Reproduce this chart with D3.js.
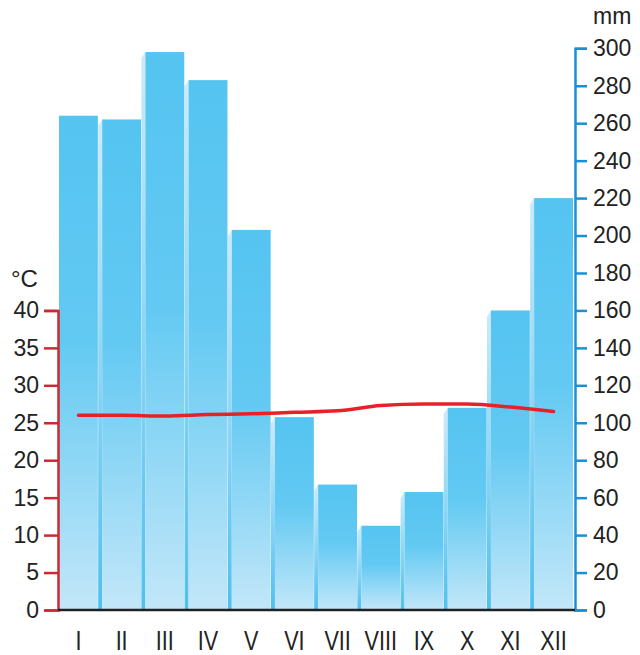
<!DOCTYPE html>
<html>
<head>
<meta charset="utf-8">
<script src="https://cdn.jsdelivr.net/npm/d3@7"></script>
<style>
  html, body { margin: 0; padding: 0; background: #fff; }
  svg { display: block; }
  text { font-family: "Liberation Sans", Arial, sans-serif; fill: #222; }
</style>
</head>
<body>
<svg id="chart" width="640" height="655"></svg>
<script>
// climate chart data
const months = ['I', 'II', 'III', 'IV', 'V', 'VI', 'VII', 'VIII', 'IX', 'X', 'XI', 'XII'];
const precipitation = [264, 262, 298, 283, 203, 103, 67, 45, 63, 108, 160, 220]; // mm
const temperature = [26.0, 26.0, 25.9, 26.1, 26.2, 26.4, 26.6, 27.3, 27.5, 27.5, 27.1, 26.5]; // °C
const tempTicks = [0, 5, 10, 15, 20, 25, 30, 35, 40];
const precTicks = [0, 20, 40, 60, 80, 100, 120, 140, 160, 180, 200, 220, 240, 260, 280, 300];

const svg = d3.select('#chart');

const left = 58, right = 575, bottom = 610;

const x = d3.scaleBand()
  .domain(months)
  .range([59, 573])
  .paddingInner(0.1)
  .paddingOuter(0);

const yP = d3.scaleLinear().domain([0, 300]).range([bottom, 48.3]);
const yT = d3.scaleLinear().domain([0, 40]).range([bottom, yP(160)]);

const defs = svg.append('defs');
const barGrad = defs.append('linearGradient')
  .attr('id', 'barGrad')
  .attr('x1', 0).attr('y1', 0).attr('x2', 0).attr('y2', 1);
barGrad.append('stop').attr('offset', '0%').attr('stop-color', '#55c4f1');
barGrad.append('stop').attr('offset', '45%').attr('stop-color', '#62c9f2');
barGrad.append('stop').attr('offset', '100%').attr('stop-color', '#c3e7f9');

const sideGrad = defs.append('linearGradient')
  .attr('id', 'sideGrad')
  .attr('x1', 0).attr('y1', 0).attr('x2', 0).attr('y2', 1);
sideGrad.append('stop').attr('offset', '0%').attr('stop-color', '#cdebfa');
sideGrad.append('stop').attr('offset', '100%').attr('stop-color', '#4fc0ee');

// bevel strips on the left of each bar
svg.append('g')
  .selectAll('path')
  .data(precipitation.slice(1))
  .enter()
  .append('path')
  .attr('fill', 'url(#sideGrad)')
  .attr('d', (d, i) => {
    const bx = x(months[i + 1]);
    const top = yP(d);
    return `M${bx - 4},${top + 6}L${bx},${top}L${bx},${bottom}L${bx - 4},${bottom}Z`;
  });

// bars
svg.append('g')
  .selectAll('rect')
  .data(precipitation)
  .enter()
  .append('rect')
  .attr('x', (d, i) => x(months[i]))
  .attr('width', x.bandwidth())
  .attr('y', d => yP(d))
  .attr('height', d => bottom - yP(d))
  .attr('fill', 'url(#barGrad)');

// temperature line
const line = d3.line()
  .x((d, i) => x(months[i]) + x.bandwidth() / 2)
  .y(d => yT(d))
  .curve(d3.curveMonotoneX);

svg.append('path')
  .datum(temperature)
  .attr('fill', 'none')
  .attr('stroke', '#e8202a')
  .attr('stroke-width', 3.5)
  .attr('stroke-linecap', 'round')
  .attr('d', line);

// left axis (°C)
const axisL = svg.append('g')
  .attr('transform', `translate(${left},0)`)
  .call(d3.axisLeft(yT).tickValues(tempTicks).tickSize(14).tickPadding(5));
axisL.select('.domain').attr('stroke', '#cc2936').attr('stroke-width', 2.5);
axisL.selectAll('.tick line').attr('stroke', '#cc2936').attr('stroke-width', 2.5);
axisL.selectAll('.tick text')
  .attr('font-size', 23)
  .attr('font-family', null)
  .attr('fill', '#222');

svg.append('text')
  .attr('x', 11)
  .attr('y', 287)
  .attr('font-size', 24)
  .text('°C');

// right axis (mm)
const axisR = svg.append('g')
  .attr('transform', `translate(${right},0)`)
  .call(d3.axisRight(yP).tickValues(precTicks).tickSize(12).tickPadding(6));
axisR.select('.domain').attr('stroke', '#1b8fd6').attr('stroke-width', 2.5);
axisR.selectAll('.tick line').attr('stroke', '#1b8fd6').attr('stroke-width', 2.5);
axisR.selectAll('.tick text')
  .attr('font-size', 23)
  .attr('font-family', null)
  .attr('fill', '#222');

svg.append('text')
  .attr('x', 593)
  .attr('y', 24)
  .attr('font-size', 23)
  .text('mm');

// bottom axis, roman month labels are tall and narrow
const axisB = svg.append('g')
  .attr('transform', `translate(0,${bottom})`)
  .call(d3.axisBottom(x).tickSize(0).tickPadding(0));
axisB.select('.domain')
  .attr('d', `M${left},0H${right}`)
  .attr('stroke', '#222')
  .attr('stroke-width', 2.5);
axisB.selectAll('.tick text')
  .attr('dy', null)
  .attr('y', 40)
  .attr('transform', 'scale(0.8,1)')
  .attr('font-size', 27)
  .attr('font-family', null)
  .attr('fill', '#222');
</script>
</body>
</html>
